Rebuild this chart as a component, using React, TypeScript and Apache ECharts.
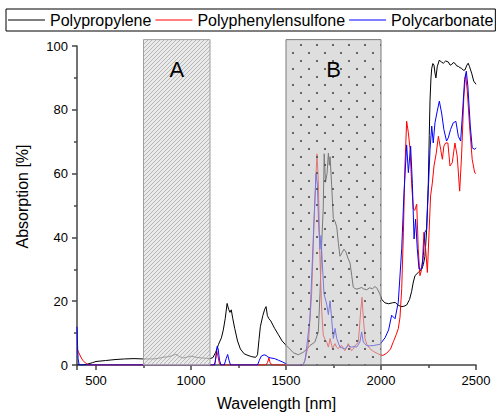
import React, { useEffect, useRef } from 'react';
import * as echarts from 'echarts';

const FONT = '"Liberation Sans", Arial, Helvetica, sans-serif';

const seriesNames = ['Polypropylene', 'Polyphenylensulfone', 'Polycarbonate'];
const seriesColors = ['#000000', '#ff0000', '#0000ff'];

// Polypropylene
const ppX = [400, 430, 450, 480, 500, 550, 600, 650, 700, 750, 800, 830, 850, 880, 900, 920, 940, 960, 980, 1000, 1020, 1040, 1060, 1080, 1100, 1115, 1130, 1145, 1160, 1170, 1180, 1190, 1198, 1205, 1212, 1220, 1230, 1245, 1260, 1280, 1300, 1320, 1340, 1350, 1358, 1365, 1378, 1388, 1395, 1402, 1410, 1420, 1440, 1460, 1480, 1500, 1520, 1540, 1565, 1591, 1610, 1626, 1652, 1670, 1679, 1688, 1696, 1701, 1708, 1716, 1723, 1728, 1732, 1740, 1749, 1758, 1767, 1776, 1784, 1795, 1805, 1815, 1826, 1837, 1846, 1854, 1862, 1872, 1885, 1898, 1910, 1925, 1940, 1955, 1968, 1980, 1992, 2005, 2020, 2040, 2060, 2075, 2090, 2105, 2120, 2135, 2150, 2161, 2170, 2179, 2196, 2214, 2223, 2231, 2240, 2249, 2254, 2258, 2263, 2267, 2273, 2279, 2284, 2289, 2296, 2307, 2317, 2328, 2340, 2354, 2364, 2372, 2380, 2389, 2398, 2407, 2416, 2424, 2433, 2442, 2452, 2459, 2466, 2477, 2488, 2500];
const ppY = [0, 0, 0.2, 0.7, 1.1, 1.4, 1.7, 1.9, 2.0, 1.9, 1.9, 2.1, 2.4, 2.6, 2.9, 3.4, 2.6, 2.2, 2.5, 2.8, 2.5, 2.3, 2.2, 2.1, 2.0, 2.3, 4.0, 6.5, 8.5, 11, 14.5, 19.3, 17.5, 16.5, 17.3, 14.5, 11.5, 7.5, 5.0, 3.5, 3.0, 2.6, 2.4, 3.2, 8, 12, 15.5, 17.5, 18.3, 15.5, 14.5, 13.8, 11.5, 9.5, 7.5, 6.2, 5.0, 3.8, 3.2, 4.0, 5.0, 6.1, 7.2, 10.4, 22.3, 38.4, 49.2, 66.2, 57.3, 60, 66.4, 62.6, 65.3, 56.7, 46, 45, 43.3, 38, 34.1, 35.2, 36.3, 35.5, 33.5, 32, 28, 24.4, 24, 23.8, 24, 24.3, 23.8, 23.6, 24.2, 23.9, 24.6, 24, 22.5, 20.5, 19.5, 19.2, 19.5, 19.6, 18.8, 18.3, 18.4, 18.8, 20.5, 23, 26, 28, 29, 30, 31.5, 34, 42, 57, 72, 83, 90, 93, 94.5, 94, 91.5, 90, 93.5, 95.6, 95, 94.6, 95.3, 95, 94, 94.2, 94.8, 94.6, 93.8, 93.6, 93.2, 93, 92.4, 92.5, 94, 94.6, 93.5, 91.5, 89, 88];

// Polyphenylensulfone
const ppsX = [400, 410, 420, 430, 445, 460, 1120, 1128, 1135, 1141, 1150, 1160, 1395, 1403, 1410, 1416, 1425, 1590, 1600, 1617, 1635, 1647, 1658, 1663, 1670, 1679, 1688, 1696, 1705, 1714, 1723, 1732, 1745, 1758, 1766, 1775, 1784, 1793, 1802, 1810, 1818, 1828, 1836, 1845, 1854, 1863, 1872, 1880, 1886, 1893, 1900, 1907, 1916, 1925, 1942, 1955, 1968, 1982, 1995, 2010, 2030, 2050, 2065, 2080, 2091, 2100, 2109, 2118, 2126, 2135, 2144, 2153, 2161, 2170, 2178, 2183, 2188, 2196, 2205, 2212, 2218, 2226, 2235, 2244, 2253, 2261, 2270, 2279, 2291, 2302, 2314, 2323, 2331, 2340, 2352, 2363, 2375, 2389, 2401, 2414, 2424, 2436, 2445, 2454, 2466, 2480, 2493, 2500];
const ppsY = [5, 3.8, 2.5, 1.5, 0.6, 0, 0, 1, 4.5, 3, 0.3, 0, 0, 0.8, 2.2, 0.8, 0, 0, 1.5, 6.1, 22.3, 43.8, 60, 66.2, 57.8, 33, 16.9, 9.4, 8, 7.2, 5.6, 8.3, 5.1, 6.7, 5.6, 5.1, 5.8, 6.1, 5.2, 4.5, 5.3, 6.7, 5.5, 4.5, 5.0, 6.1, 6.5, 7.2, 11, 16.9, 21.2, 14.7, 8.3, 6.5, 5.1, 4.5, 4.0, 3.6, 3.2, 3.0, 3.7, 5, 7.3, 9.5, 11.4, 15, 24, 41.6, 62.4, 76.4, 72.8, 67.6, 57, 48.9, 48.5, 49.5, 50.4, 36.4, 28, 29.5, 32.3, 41.6, 36.4, 29, 41.6, 53, 57, 62.4, 66.5, 71.7, 67.6, 64.5, 68.6, 69.6, 69.6, 62.4, 63.4, 69.6, 65.5, 54.5, 65.5, 84, 91, 86, 75, 64.5, 60.3, 60];

// Polycarbonate
const pcX = [400, 403, 406, 410, 420, 1125, 1132, 1138, 1143, 1150, 1158, 1175, 1185, 1193, 1200, 1208, 1350, 1360, 1370, 1385, 1395, 1405, 1420, 1440, 1460, 1480, 1500, 1515, 1590, 1600, 1608, 1626, 1639, 1650, 1658, 1665, 1672, 1679, 1684, 1691, 1700, 1714, 1723, 1732, 1740, 1749, 1758, 1767, 1784, 1797, 1810, 1828, 1845, 1860, 1872, 1889, 1898, 1907, 1924, 1940, 1960, 1978, 1995, 2021, 2040, 2056, 2074, 2091, 2109, 2121, 2135, 2144, 2156, 2165, 2174, 2182, 2191, 2200, 2214, 2223, 2231, 2240, 2249, 2258, 2267, 2275, 2284, 2296, 2307, 2319, 2331, 2345, 2354, 2366, 2380, 2394, 2407, 2419, 2428, 2440, 2449, 2457, 2470, 2480, 2493, 2500];
const pcY = [12, 6, 2, 0.3, 0, 0, 3, 5.9, 5, 1.5, 0, 0, 2, 3.3, 1.5, 0, 0, 1.5, 2.8, 3.2, 3.0, 2.5, 2.2, 2.0, 1.5, 1.0, 0.4, 0, 0, 1.5, 5.1, 14.7, 33, 49.2, 60, 56.7, 43.8, 36.3, 40.6, 32, 22.3, 19.1, 15.8, 20.1, 14.7, 8.3, 11.5, 8.3, 5.6, 5.3, 5.1, 6.1, 5.6, 5.8, 5.6, 7.2, 10.4, 7.2, 6.1, 6.0, 6.1, 6.3, 6.5, 8.5, 11, 15.6, 14.5, 19.7, 36.4, 54, 69, 60.3, 68.6, 57, 39.5, 45.7, 36.4, 30.1, 30.1, 34.3, 41.6, 42.6, 55, 67.6, 74.9, 69.6, 75.9, 79.6, 82.7, 79, 73.8, 70.2, 71.2, 73.8, 75.9, 76.4, 71.7, 70.2, 78, 89.5, 92.1, 87.5, 74.9, 68.1, 67.6, 68.1];

const seriesX = [ppX, ppsX, pcX];
const seriesY = [ppY, ppsY, pcY];

// Highlighted regions
const regionStart = [750, 1500];
const regionEnd = [1100, 2000];
const regionLabels = ['A', 'B'];

const xTickLabels = ['500', '1000', '1500', '2000', '2500'];

function makeHatch(): HTMLCanvasElement {
  const s = 4;
  const c = document.createElement('canvas');
  c.width = s;
  c.height = s;
  const g = c.getContext('2d')!;
  g.fillStyle = 'rgba(225,225,225,0.7)';
  g.fillRect(0, 0, s, s);
  g.strokeStyle = 'rgba(150,150,150,0.6)';
  g.lineWidth = 1;
  for (const k of [-s, 0, s]) {
    g.beginPath();
    g.moveTo(k, s);
    g.lineTo(k + s, 0);
    g.stroke();
  }
  return c;
}

function makeDots(): HTMLCanvasElement {
  const s = 16;
  const c = document.createElement('canvas');
  c.width = s;
  c.height = s;
  const g = c.getContext('2d')!;
  g.fillStyle = 'rgba(200,200,200,0.6)';
  g.fillRect(0, 0, s, s);
  g.fillStyle = 'rgba(80,80,80,0.85)';
  g.fillRect(4, 4, 2, 2);
  g.fillRect(12, 12, 2, 2);
  return c;
}

export default function App() {
  const ref = useRef<HTMLDivElement>(null);
  useEffect(() => {
    const chart = echarts.init(ref.current!, null, { renderer: 'svg' });
    const hatch = makeHatch();
    const dots = makeDots();
    const fills = [
      { image: hatch, repeat: 'repeat', imageWidth: hatch.width, imageHeight: hatch.height },
      { image: dots, repeat: 'repeat', imageWidth: dots.width, imageHeight: dots.height },
    ];
    const strokes = ['#a0a0a0', '#7a7a7a'];

    const lineSeries = seriesNames.map((name, i) => ({
      name,
      type: 'line',
      data: seriesX[i].map((x, j) => [x, seriesY[i][j]]),
      symbol: 'none',
      showSymbol: false,
      lineStyle: { color: seriesColors[i], width: 1 },
      itemStyle: { color: seriesColors[i] },
      z: 2,
    }));

    const axisText = { color: '#000', fontSize: 13, fontFamily: FONT };

    chart.setOption({
      animation: false,
      backgroundColor: '#fff',
      textStyle: { fontFamily: FONT },
      legend: {
        data: seriesNames,
        left: 6,
        top: 9,
        width: 494,
        orient: 'horizontal',
        borderColor: '#000',
        borderWidth: 1,
        borderRadius: 0,
        padding: [3, 2, 3, 2],
        itemGap: 4,
        itemWidth: 37,
        itemHeight: 1.2,
        icon: 'rect',
        textStyle: { fontSize: 16, color: '#000', fontFamily: FONT },
      },
      grid: { left: 77, right: 26, top: 46, bottom: 49, containLabel: false },
      xAxis: {
        type: 'value',
        min: 400,
        max: 2500,
        name: 'Wavelength [nm]',
        nameLocation: 'middle',
        nameGap: 30,
        nameTextStyle: { fontSize: 16, color: '#000', fontFamily: FONT },
        splitLine: { show: false },
        axisLine: { show: true, lineStyle: { color: '#444', width: 1.5 } },
        axisTick: { show: true, length: 5, lineStyle: { color: '#444', width: 1.5 } },
        minorTick: { show: true, splitNumber: 2, length: 3, lineStyle: { color: '#444', width: 1.5 } },
        axisLabel: {
          ...axisText,
          margin: 9,
          showMinLabel: false,
          formatter: (v: number) => (xTickLabels.includes(String(v)) ? String(v) : ''),
        },
      },
      yAxis: {
        type: 'value',
        min: 0,
        max: 100,
        interval: 20,
        name: 'Absorption [%]',
        nameLocation: 'middle',
        nameGap: 47,
        nameTextStyle: { fontSize: 16, color: '#000', fontFamily: FONT, padding: [0, 0, 0, 18] },
        splitLine: { show: false },
        axisLine: { show: true, lineStyle: { color: '#444', width: 1.5 } },
        axisTick: { show: true, length: 5, lineStyle: { color: '#444', width: 1.5 } },
        minorTick: { show: true, splitNumber: 2, length: 3, lineStyle: { color: '#444', width: 1.5 } },
        axisLabel: { ...axisText, margin: 9 },
      },
      series: [
        ...lineSeries,
        {
          type: 'custom',
          name: 'regions',
          z: 3,
          clip: false,
          silent: true,
          data: regionStart.map((s, i) => [s, regionEnd[i]]),
          renderItem: (params: any, api: any) => {
            const idx = params.dataIndex;
            const s = api.value(0);
            const e = api.value(1);
            const tl = api.coord([s, 102]);
            const br = api.coord([e, 0]);
            const ly = api.coord([s, 92.5])[1];
            return {
              type: 'group',
              children: [
                {
                  type: 'rect',
                  shape: { x: tl[0], y: tl[1], width: br[0] - tl[0], height: br[1] - tl[1] },
                  style: { fill: fills[idx], stroke: strokes[idx], lineWidth: 1 },
                },
                {
                  type: 'text',
                  x: (tl[0] + br[0]) / 2,
                  y: ly,
                  style: {
                    text: regionLabels[idx],
                    fill: '#000',
                    font: `22px ${FONT}`,
                    align: 'center',
                    verticalAlign: 'middle',
                  },
                },
              ],
            };
          },
        },
      ],
    });
    return () => chart.dispose();
  }, []);
  return (
    <div
      ref={ref}
      style={{ position: 'fixed', left: 0, top: 0, width: 502, height: 416, background: '#fff' }}
    />
  );
}
